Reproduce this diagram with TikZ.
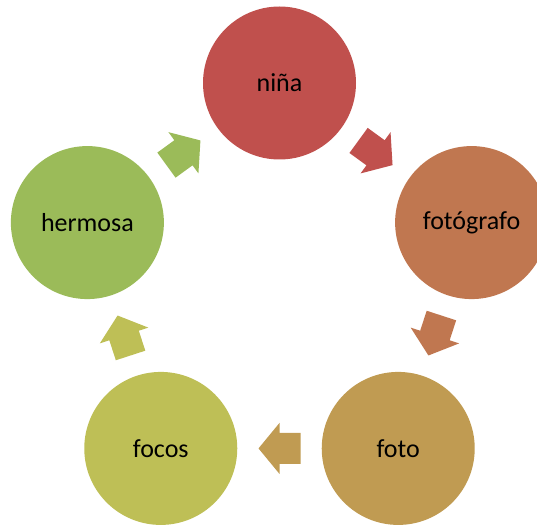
\documentclass[tikz,border=0pt]{standalone}
\usepackage{fontspec}
\setmainfont{Carlito}
\usetikzlibrary{calc}
\definecolor{cNina}{RGB}{192,80,77}
\definecolor{cFotografo}{RGB}{192,119,80}
\definecolor{cFoto}{RGB}{192,155,82}
\definecolor{cFocos}{RGB}{190,191,86}
\definecolor{cHermosa}{RGB}{155,187,89}
\begin{document}
\begin{tikzpicture}[
    x=1pt, y=1pt,
    every node/.style={font=\fontsize{26}{30}\selectfont, text=black},
    circ/.style={circle, minimum size=153pt, inner sep=0pt},
]
\useasboundingbox (-279.5,-239) rectangle (257.5,285);

% ── Círculos del ciclo ──
\node[circ, fill=cNina]      (nina)      at (90:202)   {niña};
\node[circ, fill=cFotografo] (fotografo) at (18:202)   {fotógrafo};
\node[circ, fill=cFoto]      (foto)      at (-54:202)  {foto};
\node[circ, fill=cFocos]     (focos)     at (-126:202) {focos};
\node[circ, fill=cHermosa]   (hermosa)   at (162:202)  {hermosa};

% ── Flechas entre círculos ──
\foreach \a/\b/\ang/\col in {nina/fotografo/-36/cNina,
                             fotografo/foto/-108/cFotografo,
                             foto/focos/180/cFoto,
                             focos/hermosa/108/cFocos,
                             hermosa/nina/36/cHermosa} {
    \coordinate (m) at ($(\a)!0.5!(\b)$);
    \fill[\col, shift={(m)}, rotate=\ang]
        (-21,15.5) -- (0,15.5) -- (0,25.5) -- (21,0)
        -- (0,-25.5) -- (0,-15.5) -- (-21,-15.5) -- cycle;
}
\end{tikzpicture}
\end{document}
